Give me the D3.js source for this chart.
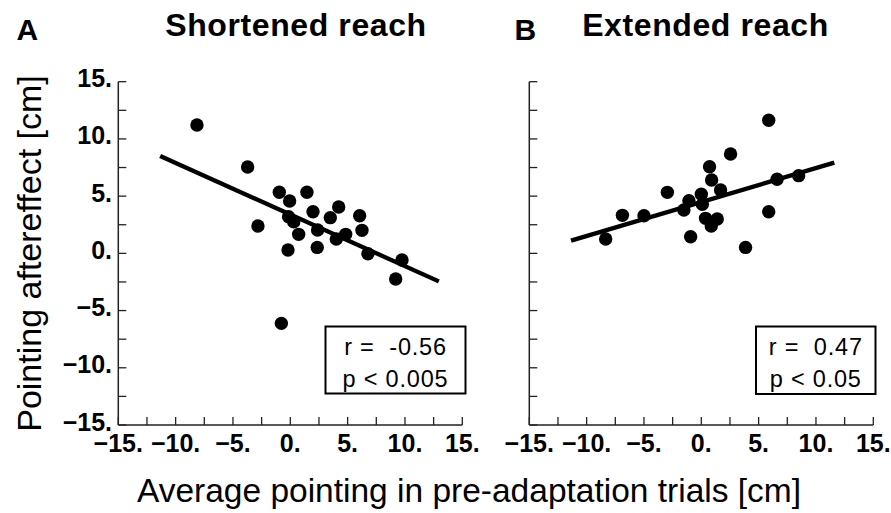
<!DOCTYPE html>
<html><head><meta charset="utf-8">
<script src="https://cdn.jsdelivr.net/npm/d3@7"></script>
<style>
html,body{margin:0;padding:0;background:#fff;}
svg{display:block;font-family:"Liberation Sans",Arial,Helvetica,sans-serif;}
</style></head>
<body><svg id="chart" width="891" height="513"></svg>
<script>
// ---- data (cm) ----
const shortX = [-8.14,-3.72,-2.82,-0.96,-0.06,-0.15,0.3,-0.20,0.73,1.45,1.98,2.38,2.35,3.49,4.22,4.01,4.83,6.05,6.25,6.77,9.74,9.19,-0.78];
const shortY = [11.22,7.55,2.39,5.34,4.58,3.2,2.75,0.29,1.66,5.34,3.64,2.04,0.52,3.12,4.05,1.25,1.66,3.29,2.01,-0.03,-0.58,-2.24,-6.12];
const extX = [-8.34,-6.88,-5.00,-2.96,-1.52,-1.08,-0.93,0.00,0.09,0.37,0.87,1.39,0.72,0.90,1.68,2.55,3.86,5.88,5.88,6.61,8.49];
const extY = [1.25,3.32,3.29,5.33,3.79,4.60,1.45,5.16,4.28,3.06,2.39,3.00,7.57,6.41,5.53,8.68,0.52,11.63,3.64,6.47,6.79];
const shortFitX = [-11.35, 12.95], shortFitY = [8.51, -2.45];
const extFitX = [-11.36, 11.6], extFitY = [1.11, 7.93];
const tickValues = [-15,-10,-5,0,5,10,15];
const minorTicks = d3.range(-15, 15.01, 2.5);
const panelTitles = ["Shortened reach","Extended reach"];
const panelLetters = ["A","B"];
const statsLines = [["r =  -0.56","p < 0.005"],["r =  0.47","p < 0.05"]];
const xTitle = "Average pointing in pre-adaptation trials [cm]";
const yTitle = "Pointing aftereffect [cm]";

const svg = d3.select("#chart");
const fmt = v => (v < 0 ? "\u2212" + Math.abs(v) : String(v)) + ".";
const y = d3.scaleLinear().domain([-15,15]).range([425,81.7]);

const panels = [
  {x0:118.3, x1:462.3, xs:shortX, ys:shortY, fx:shortFitX, fy:shortFitY, showY:true,
   box:[325.5,326.5,140,67], titleX:296, letterX:16.5},
  {x0:529.3, x1:873.3, xs:extX, ys:extY, fx:extFitX, fy:extFitY, showY:false,
   box:[756,326.5,119.5,67.5], titleX:705.5, letterX:514.5}
];

panels.forEach((p,i) => {
  const x = d3.scaleLinear().domain([-15,15]).range([p.x0,p.x1]);
  const g = svg.append("g");
  g.append("line").attr("x1",p.x0).attr("x2",p.x0).attr("y1",y(15)).attr("y2",y(-15))
    .attr("stroke","#222").attr("stroke-width",1.5);
  g.append("line").attr("x1",p.x0).attr("x2",p.x1).attr("y1",y(-15)).attr("y2",y(-15))
    .attr("stroke","#222").attr("stroke-width",1.5);
  minorTicks.forEach(t => {
    g.append("line").attr("x1",p.x0).attr("x2",p.x0+8).attr("y1",y(t)).attr("y2",y(t))
      .attr("stroke","#222").attr("stroke-width",1.3);
    g.append("line").attr("x1",x(t)).attr("x2",x(t)).attr("y1",y(-15)).attr("y2",y(-15)-8)
      .attr("stroke","#222").attr("stroke-width",1.3);
  });
  tickValues.forEach(t => {
    g.append("text").attr("x",x(t)).attr("y",452).attr("text-anchor","middle")
      .attr("font-weight","bold").attr("font-size",25).text(fmt(t));
    if (p.showY) g.append("text").attr("x",112).attr("y",y(t)+5.5).attr("text-anchor","end")
      .attr("font-weight","bold").attr("font-size",25).text(fmt(t));
  });
  g.append("line").attr("x1",x(p.fx[0])).attr("y1",y(p.fy[0])).attr("x2",x(p.fx[1])).attr("y2",y(p.fy[1]))
    .attr("stroke","#000").attr("stroke-width",4.3);
  g.selectAll("circle.pt").data(d3.range(p.xs.length)).join("circle").attr("class","pt")
    .attr("cx",k=>x(p.xs[k])).attr("cy",k=>y(p.ys[k])).attr("r",6.7).attr("fill","#000");
  const [bx,by,bw,bh] = p.box;
  g.append("rect").attr("x",bx).attr("y",by).attr("width",bw).attr("height",bh)
    .attr("fill","#fff").attr("stroke","#000").attr("stroke-width",2);
  statsLines[i].forEach((s,j) => {
    g.append("text").attr("x",bx+bw/2).attr("y",355+j*31.5).attr("text-anchor","middle")
      .attr("font-size",23.5).attr("letter-spacing",0.8).style("white-space","pre").text(s);
  });
  svg.append("text").attr("x",p.titleX).attr("y",35.5).attr("text-anchor","middle")
    .attr("font-weight","bold").attr("font-size",32).attr("letter-spacing",0.6).text(panelTitles[i]);
  svg.append("text").attr("x",p.letterX).attr("y",39.5)
    .attr("font-weight","bold").attr("font-size",30).text(panelLetters[i]);
});

svg.append("text").attr("x",469).attr("y",502).attr("text-anchor","middle")
  .attr("font-size",33.5).text(xTitle);
svg.append("text").attr("transform","translate(41,253.5) rotate(-90)").attr("text-anchor","middle")
  .attr("font-size",34).text(yTitle);
</script></body></html>
